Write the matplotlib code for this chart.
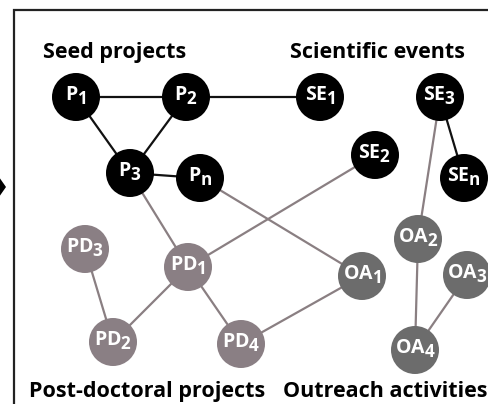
import matplotlib
matplotlib.use("Agg")
import matplotlib.pyplot as plt
import matplotlib._mathtext as _mt
from matplotlib.patches import Circle, Polygon

# larger, slightly lower subscripts like the reference typography
_mt.SHRINK_FACTOR = 0.88
_mt.FontConstantsBase.sub1 = 0.42
_mt.FontConstantsBase.sub2 = 0.55

plt.rcParams['mathtext.fontset'] = 'custom'
plt.rcParams['mathtext.rm'] = 'Open Sans:bold'
plt.rcParams['mathtext.bf'] = 'Open Sans:bold'
plt.rcParams['mathtext.it'] = 'Open Sans:bold'

# Nodes
node_names = ["P1", "P2", "P3", "Pn", "SE1", "SE2", "SE3", "SEn",
              "PD1", "PD2", "PD3", "PD4", "OA1", "OA2", "OA3", "OA4"]
node_main = ["P", "P", "P", "P", "SE", "SE", "SE", "SE",
             "PD", "PD", "PD", "PD", "OA", "OA", "OA", "OA"]
node_sub = ["1", "2", "3", "n", "1", "2", "3", "n",
            "1", "2", "3", "4", "1", "2", "3", "4"]
node_x = [76, 186, 130, 200, 320, 375, 440, 464,
          188, 113, 85, 241, 362, 418, 467, 415]
node_y = [97, 97, 173, 178, 97, 155, 97, 178,
          267, 342, 249, 344, 276, 239, 275, 350]
node_group = ["seed", "seed", "seed", "seed", "sci", "sci", "sci", "sci",
              "pd", "pd", "pd", "pd", "oa", "oa", "oa", "oa"]

# Edges
edges_strong = [("P1", "P2"), ("P2", "SE1"), ("P1", "P3"), ("P2", "P3"),
                ("P3", "Pn"), ("SE3", "SEn")]
edges_weak = [("P3", "PD1"), ("Pn", "OA1"), ("SE2", "PD1"), ("SE3", "OA2"),
              ("OA2", "OA4"), ("OA3", "OA4"), ("PD3", "PD2"), ("PD1", "PD2"),
              ("PD1", "PD4"), ("PD4", "OA1")]

# Group titles
group_titles = ["Seed projects", "Scientific events",
                "Post-doctoral projects", "Outreach activities"]
title_x = [43, 290, 29, 283]
title_y = [58, 58, 397, 397]

colors = {"seed": "#000000", "sci": "#000000", "pd": "#8a7f84", "oa": "#6c6c6c"}
W, H = 489, 404
fig = plt.figure(figsize=(W / 100, H / 100), dpi=100)
ax = fig.add_axes([0, 0, 1, 1])
ax.set_xlim(0, W)
ax.set_ylim(H, 0)
ax.axis('off')

pos = {n: (x, y) for n, x, y in zip(node_names, node_x, node_y)}
for a, b in edges_weak:
    ax.plot([pos[a][0], pos[b][0]], [pos[a][1], pos[b][1]], color="#8a7f82",
            lw=1.6, zorder=1, solid_capstyle='butt')
for a, b in edges_strong:
    ax.plot([pos[a][0], pos[b][0]], [pos[a][1], pos[b][1]], color="#111111",
            lw=1.6, zorder=1, solid_capstyle='butt')

R = 24
for n, m, s, x, y, g in zip(node_names, node_main, node_sub, node_x, node_y, node_group):
    ax.add_patch(Circle((x, y), R, facecolor=colors[g], edgecolor='none', zorder=2))
    ax.text(x, y + 3, r"$\mathrm{%s}_{\mathrm{%s}}$" % (m, s), color='white',
            fontsize=14, ha='center', va='baseline', zorder=3)

for t, x, y in zip(group_titles, title_x, title_y):
    ax.text(x, y, t, fontsize=15.5, fontweight='bold', family='Open Sans',
            ha='left', va='baseline', color='black')

# frame and arrow
ax.plot([14, 14, W + 5], [H + 5, 10, 10], color='#222222', lw=1.6,
        solid_joinstyle='miter')
ax.add_patch(Polygon([(-1, 177), (6, 187), (-1, 197)], closed=True,
                     facecolor='black', edgecolor='none'))

fig.savefig("out.png", dpi=100)
